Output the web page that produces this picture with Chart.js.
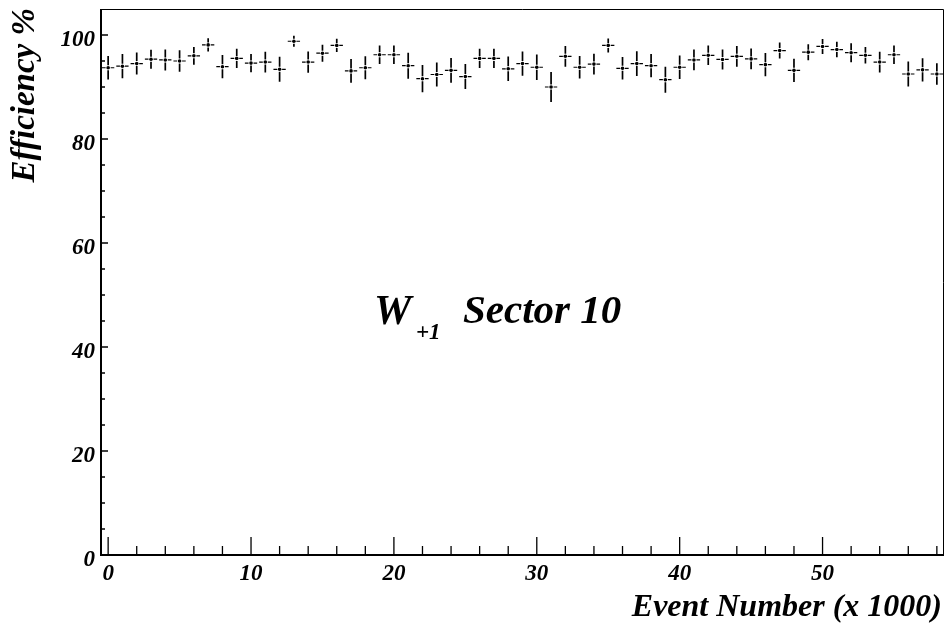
<!DOCTYPE html>
<html>
<head>
<meta charset="utf-8">
<script src="https://cdn.jsdelivr.net/npm/chart.js@4/dist/chart.umd.min.js"></script>
<style>
  html, body { margin: 0; padding: 0; background: #fff; }
  #wrap { width: 948px; height: 626px; }
</style>
</head>
<body>
<div id="wrap"><canvas id="c" width="948" height="626"></canvas></div>
<script>
// Bin centres (event number, thousands)
const eventBins = [
  0, 1, 2, 3, 4, 5, 6, 7, 8, 9,
  10, 11, 12, 13, 14, 15, 16, 17, 18, 19,
  20, 21, 22, 23, 24, 25, 26, 27, 28, 29,
  30, 31, 32, 33, 34, 35, 36, 37, 38, 39,
  40, 41, 42, 43, 44, 45, 46, 47, 48, 49,
  50, 51, 52, 53, 54, 55, 56, 57, 58
];
// Efficiency per bin (%)
const efficiency = [
  93.7, 94.0, 94.5, 95.35, 95.2, 95.0, 96.0, 98.1, 93.9, 95.5,
  94.6, 94.8, 93.4, 98.8, 94.8, 96.5, 98.0, 93.1, 93.7, 96.2,
  96.2, 94.1, 91.6, 92.4, 93.2, 92.0, 95.5, 95.5, 93.5, 94.5,
  93.8, 90.0, 95.9, 93.8, 94.4, 98.0, 93.6, 94.5, 94.1, 91.4,
  93.8, 95.2, 96.1, 95.3, 95.9, 95.4, 94.3, 97.0, 93.2, 96.7,
  97.8, 97.2, 96.6, 96.1, 94.8, 96.2, 92.5, 93.3, 92.5
];
// Statistical error per bin (%)
const efficiencyErr = [
  2.28, 2.34, 2.12, 1.83, 2.02, 2.05, 1.70, 1.28, 2.24, 1.86,
  1.76, 2.00, 2.40, 1.06, 2.05, 1.63, 1.28, 2.30, 2.20, 1.80,
  1.80, 2.50, 2.63, 2.30, 2.40, 2.40, 1.86, 1.86, 2.37, 2.34,
  2.47, 2.90, 2.00, 2.18, 2.00, 1.35, 2.15, 2.37, 2.24, 2.50,
  2.24, 2.00, 1.86, 1.92, 2.00, 2.00, 2.24, 1.54, 2.24, 1.54,
  1.44, 1.50, 1.83, 1.60, 2.00, 1.76, 2.40, 2.24, 2.05
];
const binWidth = 1;

// Axis ticks and labels
const xMajorTicks = [0, 10, 20, 30, 40, 50];
const xTickLabels = ['0', '10', '20', '30', '40', '50'];
const xMinorTicks = [2, 4, 6, 8, 12, 14, 16, 18, 22, 24, 26, 28, 32, 34, 36, 38, 42, 44, 46, 48, 52, 54, 56, 58];
const yMajorTicks = [0, 20, 40, 60, 80, 100];
const yTickLabels = ['0', '20', '40', '60', '80', '100'];
const yMinorTicks = [5, 10, 15, 25, 30, 35, 45, 50, 55, 65, 70, 75, 85, 90, 95];

const xTitle = 'Event Number (x 1000)';
const yTitle = 'Efficiency %';
const labelMain = 'W';
const labelSub = '+1';
const labelRest = 'Sector 10';

const FONT = '"Liberation Serif", "Times New Roman", serif';

// Error bars: horizontal = bin width, vertical = ±err, with a gap round the marker
const errorBars = {
  id: 'errorBars',
  afterDatasetsDraw(chart) {
    const { ctx, scales: { x, y } } = chart;
    const gap = 2.5;
    ctx.save();
    ctx.strokeStyle = '#000';
    for (let i = 0; i < eventBins.length; i++) {
      const cx = x.getPixelForValue(eventBins[i]);
      const cy = y.getPixelForValue(efficiency[i]);
      const xl = x.getPixelForValue(eventBins[i] - binWidth / 2) + 1;
      const xr = x.getPixelForValue(eventBins[i] + binWidth / 2) - 1;
      const yt = y.getPixelForValue(efficiency[i] + efficiencyErr[i]);
      const yb = y.getPixelForValue(efficiency[i] - efficiencyErr[i]);
      ctx.lineWidth = 1.2;
      ctx.beginPath();
      ctx.moveTo(xl, cy); ctx.lineTo(cx - gap, cy);
      ctx.moveTo(cx + gap, cy); ctx.lineTo(xr, cy);
      ctx.stroke();
      ctx.lineWidth = 1.7;
      ctx.beginPath();
      ctx.moveTo(cx, yt); ctx.lineTo(cx, cy - gap);
      ctx.moveTo(cx, cy + gap); ctx.lineTo(cx, yb);
      ctx.stroke();
    }
    ctx.restore();
  }
};

// Frame, inward ticks, tick labels, titles and the sector label
const frameAndText = {
  id: 'frameAndText',
  afterDraw(chart) {
    const { ctx, chartArea: a, scales: { x, y } } = chart;
    ctx.save();
    ctx.strokeStyle = '#000';
    ctx.fillStyle = '#000';

    // top and right frame
    ctx.lineWidth = 1;
    ctx.beginPath();
    ctx.moveTo(a.left, a.top + 0.5); ctx.lineTo(a.right - 0.5, a.top + 0.5); ctx.lineTo(a.right - 0.5, a.bottom);
    ctx.stroke();

    // left and bottom axis lines
    ctx.lineWidth = 2;
    ctx.beginPath();
    ctx.moveTo(a.left, a.top); ctx.lineTo(a.left, a.bottom); ctx.lineTo(a.right, a.bottom);
    ctx.stroke();

    // x ticks (pointing up, inside)
    ctx.lineWidth = 1.3;
    ctx.beginPath();
    xMajorTicks.forEach(v => { const px = x.getPixelForValue(v); ctx.moveTo(px, a.bottom); ctx.lineTo(px, a.bottom - 18); });
    xMinorTicks.forEach(v => { const px = x.getPixelForValue(v); ctx.moveTo(px, a.bottom); ctx.lineTo(px, a.bottom - 9); });
    // y ticks (pointing right, inside)
    yMajorTicks.forEach(v => { const py = y.getPixelForValue(v); ctx.moveTo(a.left, py); ctx.lineTo(a.left + 7, py); });
    yMinorTicks.forEach(v => { const py = y.getPixelForValue(v); ctx.moveTo(a.left, py); ctx.lineTo(a.left + 4, py); });
    ctx.stroke();

    // tick labels
    ctx.font = 'bold italic 23px ' + FONT;
    ctx.textBaseline = 'alphabetic';
    ctx.textAlign = 'center';
    xMajorTicks.forEach((v, i) => ctx.fillText(xTickLabels[i], x.getPixelForValue(v), a.bottom + 25));
    ctx.textAlign = 'right';
    yMajorTicks.forEach((v, i) => ctx.fillText(yTickLabels[i], a.left - 6, y.getPixelForValue(v) + 11));

    // axis titles
    ctx.font = 'bold italic 32px ' + FONT;
    ctx.textAlign = 'right';
    ctx.fillText(xTitle, 942, 616);
    ctx.save();
    ctx.font = 'bold italic 33px ' + FONT;
    ctx.translate(34, 8);
    ctx.rotate(-Math.PI / 2);
    ctx.textAlign = 'right';
    ctx.fillText(yTitle, 0, 0);
    ctx.restore();

    // sector label
    ctx.textAlign = 'left';
    ctx.font = 'bold italic 42px ' + FONT;
    ctx.fillText(labelMain, 374, 324);
    ctx.font = 'bold italic 23px ' + FONT;
    ctx.fillText(labelSub, 416, 339);
    ctx.font = 'bold italic 41px ' + FONT;
    ctx.fillText(labelRest, 463, 323);
    ctx.restore();
  }
};

new Chart(document.getElementById('c'), {
  type: 'scatter',
  data: {
    datasets: [{
      data: eventBins.map((b, i) => ({ x: b, y: efficiency[i] })),
      pointRadius: 1.8,
      pointBackgroundColor: '#000',
      pointBorderWidth: 0,
      showLine: false
    }]
  },
  options: {
    responsive: false,
    animation: false,
    events: [],
    layout: { padding: { left: 101, right: 3, top: 9, bottom: 71 } },
    plugins: { legend: { display: false }, tooltip: { enabled: false } },
    scales: {
      x: { type: 'linear', min: -0.5, max: 58.5, display: false },
      y: { type: 'linear', min: 0, max: 105, display: false }
    }
  },
  plugins: [errorBars, frameAndText]
});
</script>
</body>
</html>
